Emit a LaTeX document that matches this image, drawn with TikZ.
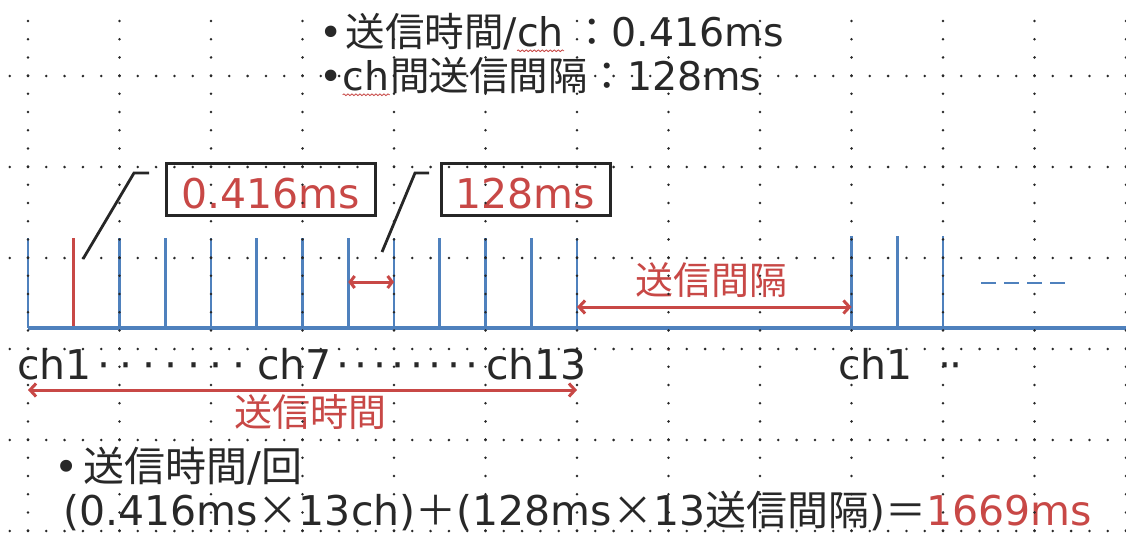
\documentclass[tikz,border=0pt]{standalone}
\usepackage{fontspec}
\setmainfont{DejaVu Sans}
\newfontfamily\cjk{Noto Sans CJK JP}
\newcommand\J[1]{{\cjk #1}}
\usetikzlibrary{arrows.meta,decorations.pathmorphing}
\definecolor{tlblue}{RGB}{79,129,189}
\definecolor{tlred}{RGB}{200,72,70}
\definecolor{txt}{RGB}{40,40,40}
\definecolor{griddot}{RGB}{40,40,40}
\begin{document}
\begin{tikzpicture}[x=1pt,y=-1pt,
  tick/.style={tlblue,line width=2.8pt},
  redtick/.style={tlred,line width=2.8pt},
  baseln/.style={tlblue,line width=3.4pt},
  rarrow/.style={tlred,line width=3pt,{Straight Barb[length=6pt,width=13pt]}-{Straight Barb[length=6pt,width=13pt]}},
  leader/.style={black!85,line width=2.8pt},
  callout/.style={draw=black!85,line width=3pt,inner sep=0,text=tlred,font=\fontsize{41}{44}\selectfont,text height=38pt,text depth=0pt},
  lbl/.style={inner sep=0,anchor=base west,text=txt},
  rlbl/.style={inner sep=0,text=tlred,font=\fontsize{38}{42}\selectfont\cjk},
  squig/.style={tlred,line width=0.8pt,decorate,decoration={snake,amplitude=0.9pt,segment length=4pt}},
  topf/.style={font=\fontsize{39.5}{44}\selectfont},
  chf/.style={font=\fontsize{41}{44}\selectfont},
  botf/.style={font=\fontsize{41}{46}\selectfont},
  rowdots/.style={griddot,line width=2.8pt,line cap=round,dash pattern=on 0pt off 18.3pt},
  coldots/.style={griddot,line width=2.8pt,line cap=round,dash pattern=on 0pt off 18.2pt}]
\useasboundingbox (0,0) rectangle (1126,533);
\fill[white] (0,0) rectangle (1126,533);

% ---- timeline ticks
\foreach \k in {0,...,12}{
  \coordinate (tt\k) at ({28+45.75*\k},238);
  \coordinate (tb\k) at ({28+45.75*\k},328);
}
\coordinate (tt13) at (851.5,236); \coordinate (tb13) at (851.5,328);
\coordinate (tt14) at (897.25,236); \coordinate (tb14) at (897.25,328);
\coordinate (tt15) at (943,236); \coordinate (tb15) at (943,328);
\foreach \k in {0,2,3,4,5,6,7,8,9,10,11,12,13,14,15}{
  \draw[tick] (tt\k) -- (tb\k);
}
\draw[redtick] (tt1) -- (tb1);
\coordinate (bend) at (1126,328);
\draw[baseln] (tb0) -- (bend);

% dashed continuation
\coordinate (ds) at (981,283);
\coordinate (de) at (1066,283);
\draw[tlblue,line width=2.8pt,dash pattern=on 15pt off 8pt] (ds) -- (de);

% ---- red arrows
\coordinate (a1s) at (348.25,282); \coordinate (a1e) at (394,282);
\draw[rarrow,{Straight Barb[length=4.5pt,width=12pt]}-{Straight Barb[length=4.5pt,width=12pt]}] (a1s) -- (a1e);
\coordinate (a2s) at (577,307); \coordinate (a2e) at (851.5,307);
\draw[rarrow] (a2s) -- (a2e);
\coordinate (a3s) at (28,390); \coordinate (a3e) at (577,390);
\draw[rarrow] (a3s) -- (a3e);

\node[rlbl] (gap) at (711,280) {送信間隔};
\node[rlbl] (sendt) at (310,412) {送信時間};

% ---- callout boxes and leaders
\node[callout,minimum width=209pt,minimum height=52pt] (box1) at (270.5,189) {0.416ms};
\node[callout,minimum width=169pt,minimum height=52pt] (box2) at (525.5,189) {128ms};
\coordinate (l1a) at (83,259); \coordinate (l1b) at (134,173); \coordinate (l1c) at (149,173);
\draw[leader] (l1a) -- (l1b) -- (l1c);
\coordinate (l2a) at (382,252); \coordinate (l2b) at (415,173); \coordinate (l2c) at (429,173);
\draw[leader] (l2a) -- (l2b) -- (l2c);

% ---- top text
\node[lbl,topf] (t1a) at (319,46) {•\hspace{3pt}\J{送信時間}/};
\node[lbl,topf] (t1b) at (t1a.base east) {ch};
\node[lbl,topf] (t1c) at (t1b.base east) {\hspace{8pt}\J{：}0.416ms};
\node[lbl,topf] (t2a) at (319,90) {•};
\node[lbl,topf] (t2b) at (t2a.base east) {ch};
\node[lbl,topf] (t2c) at (t2b.base east) {\J{間送信間隔：}128ms};
\draw[squig] ([yshift=-4pt]t1b.south west) -- ([yshift=-4pt]t1b.south east);
\draw[squig] ([yshift=-4pt]t2b.south west) -- ([yshift=-4pt]t2b.south east);

% ---- channel labels
\node[lbl,chf] (c1) at (17,379) {ch1};
\node[lbl,chf] (d1) at (97,379) {·\hspace{9.5pt}·\hspace{9.5pt}·\hspace{9.5pt}·\hspace{9.5pt}·\hspace{9.5pt}·\hspace{9.5pt}·};
\node[lbl,chf] (c7) at (257,379) {ch7};
\node[lbl,chf] (d2) at (336,379) {·\hspace{5.5pt}·\hspace{5.5pt}·\hspace{5.5pt}·\hspace{5.5pt}·\hspace{5.5pt}·\hspace{5.5pt}·\hspace{5.5pt}·};
\node[lbl,chf] (c13) at (486,379) {ch13};
\node[lbl,chf] (c1r) at (838,379) {ch1\hspace{26pt}·\hspace{-2pt}·};

% ---- bottom text
\node[lbl,botf] (b1) at (54,481) {•\hspace{5pt}\J{送信時間}/\J{回}};
\node[lbl,botf] (b2) at (63,525) {(0.416ms\J{×}13ch)\J{＋}(128ms\J{×}13\J{送信間隔})\J{＝}\textcolor{tlred}{1669ms}};

% ---- dotted grid (dense rows and sparse columns)
\foreach \gy in {76,167,258,349,440,531}{
  \draw[rowdots] (9.7,\gy) -- (1130,\gy);
}
\foreach \gc in {0,...,12}{
  \draw[coldots] ({28+91.5*\gc},21) -- ({28+91.5*\gc},535);
}
\end{tikzpicture}
\end{document}
